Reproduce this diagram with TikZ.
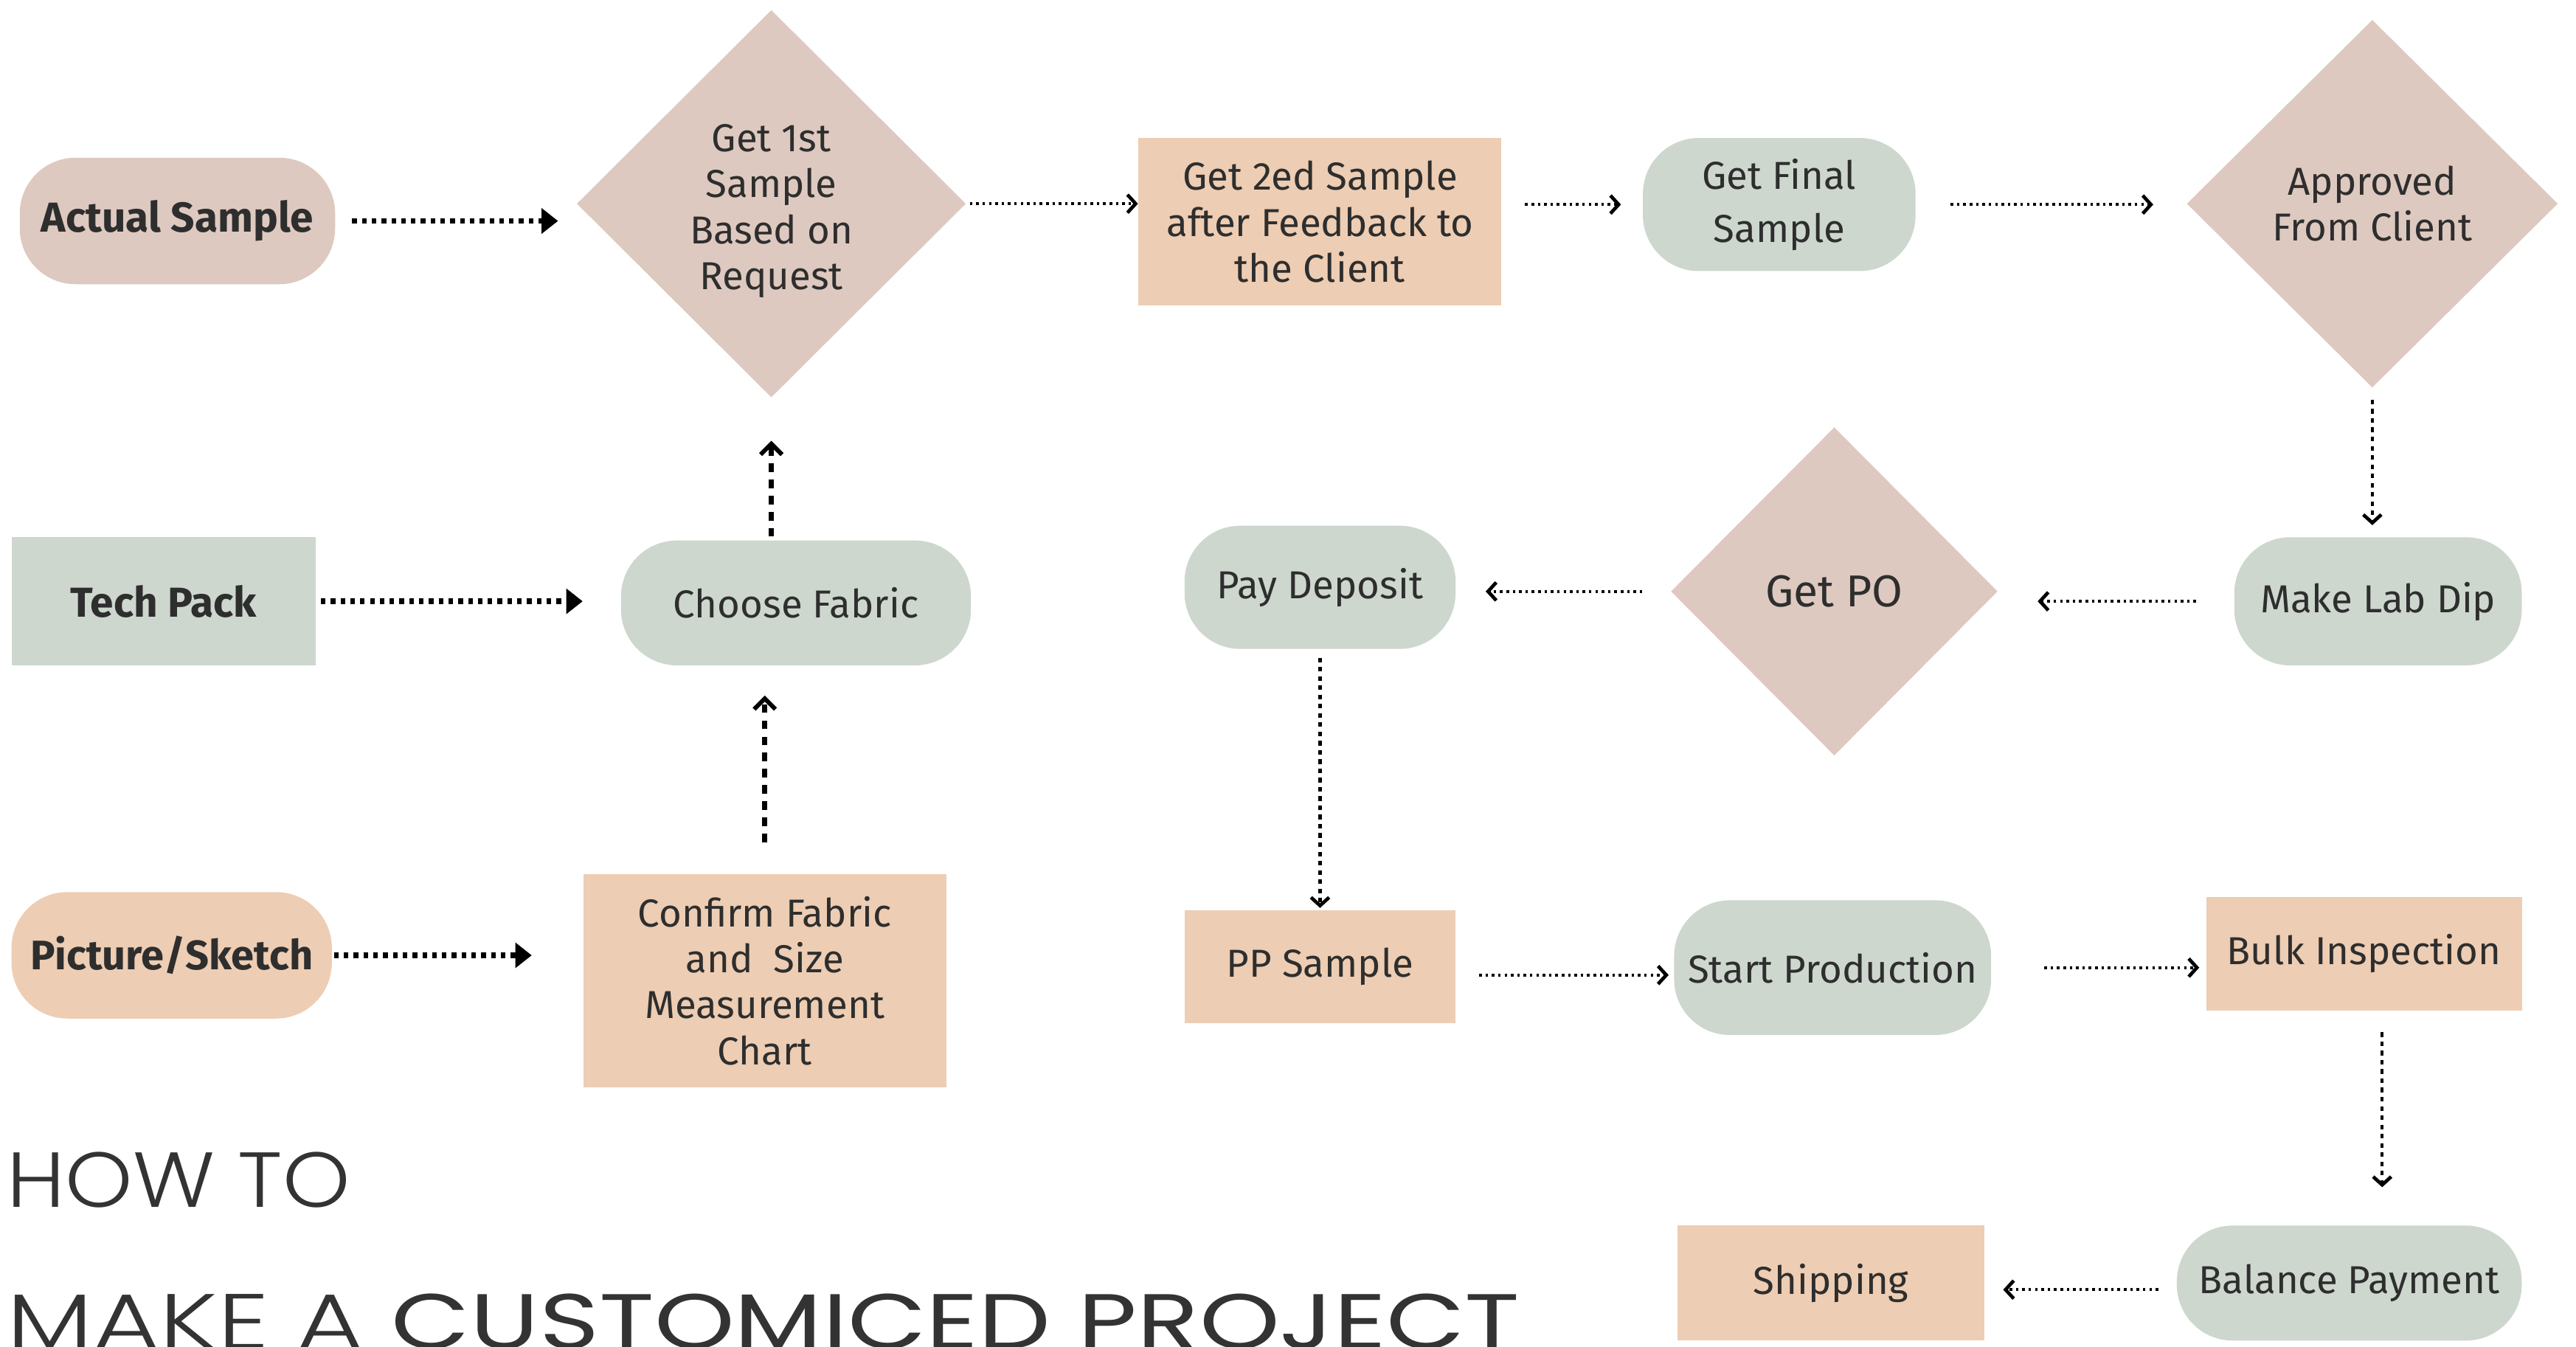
\documentclass[tikz,border=0pt]{standalone}
\usepackage{fontspec}
\setmainfont{Fira Sans}
\newfontfamily\titlelight{Poppins Light}
\newfontfamily\titlereg{Poppins}
\usetikzlibrary{shapes.geometric,arrows.meta}
\definecolor{pinkc}{HTML}{DEC9C0}
\definecolor{peachc}{HTML}{EDCDB3}
\definecolor{greenc}{HTML}{CDD7CE}
\definecolor{txtc}{HTML}{2E2E2E}
\definecolor{titlec}{HTML}{333333}
\tikzset{
  basenode/.style={inner sep=0pt, align=center, text=txtc, font=\fontsize{13.5}{15.9}\selectfont},
  boldtxt/.style={font=\fontsize{14.5}{17}\selectfont\bfseries},
  pill/.style={basenode, rectangle, rounded corners=0.68cm},
  boxnode/.style={basenode, rectangle},
  dia/.style={basenode, diamond, aspect=1},
  pinkf/.style={fill=pinkc},
  peachf/.style={fill=peachc},
  greenf/.style={fill=greenc},
  thkh/.style={line width=1.9pt, dash pattern=on 1.6pt off 1.8pt, -{Triangle[length=0.2cm,width=0.3cm]}},
  thkv/.style={line width=1.9pt, dash pattern=on 3pt off 2.6pt, -{Straight Barb[length=0.13cm,width=0.26cm,line width=1.5pt]}},
  thnh/.style={line width=1.1pt, dash pattern=on 0.9pt off 1.3pt, -{Straight Barb[length=0.1cm,width=0.22cm,line width=1.2pt]}},
  thnv/.style={line width=1.1pt, dash pattern=on 1.6pt off 1.6pt, -{Straight Barb[length=0.1cm,width=0.22cm,line width=1.2pt]}},
}
\begin{document}
\begin{tikzpicture}[x=0.02cm,y=-0.02cm]
\useasboundingbox[fill=white] (0,0) rectangle (1568,819.5);
% row 1
\node[pill,pinkf,minimum width=3.84cm,minimum height=1.54cm,boldtxt] (as) at (108,134.5) {Actual Sample};
\node[dia,pinkf,minimum width=4.74cm,minimum height=4.72cm] (g1) at (469.5,124) {\rule{0pt}{14.6pt}Get 1st\\Sample\\Based on\\Request};
\node[boxnode,peachf,minimum width=4.42cm,minimum height=2.04cm] (g2) at (803.5,135) {Get 2ed Sample\\after Feedback to\\the Client};
\node[pill,greenf,minimum width=3.32cm,minimum height=1.62cm,font=\fontsize{13.5}{18.5}\selectfont] (fin) at (1083,124.5) {Get Final\\Sample};
\node[dia,pinkf,minimum width=4.52cm,minimum height=4.48cm] (ap) at (1444,124) {Approved\\From Client};
% row 2
\node[boxnode,greenf,minimum width=3.7cm,minimum height=1.56cm,boldtxt] (tp) at (99.5,366) {Tech Pack};
\node[pill,greenf,minimum width=4.26cm,minimum height=1.52cm] (cf) at (484.5,367) {Choose Fabric};
\node[pill,greenf,minimum width=3.3cm,minimum height=1.5cm] (pd) at (803.5,357.5) {Pay Deposit};
\node[dia,pinkf,minimum width=3.98cm,minimum height=4.0cm,font=\fontsize{15.5}{18}\selectfont] (po) at (1116.5,360) {Get PO};
\node[pill,greenf,minimum width=3.5cm,minimum height=1.56cm] (mld) at (1447.5,366) {Make Lab Dip};
% row 3
\node[pill,peachf,minimum width=3.9cm,minimum height=1.54cm,font=\fontsize{14.3}{17}\selectfont\bfseries] (ps) at (104.5,581.5) {Picture/Sketch};
\node[boxnode,peachf,minimum width=4.42cm,minimum height=2.6cm] (conf) at (465.5,597) {Confirm Fabric\\and\ \ Size\\Measurement\\Chart};
\node[boxnode,peachf,minimum width=3.3cm,minimum height=1.38cm] (pp) at (803.5,588.5) {PP Sample};
\node[pill,greenf,minimum width=3.86cm,minimum height=1.64cm] (sp) at (1115.5,589) {Start Production};
\node[boxnode,peachf,minimum width=3.84cm,minimum height=1.38cm] (bi) at (1439,580.5) {Bulk Inspection};
% row 4
\node[boxnode,peachf,minimum width=3.74cm,minimum height=1.4cm] (sh) at (1114.5,781) {Shipping};
\node[pill,greenf,minimum width=4.2cm,minimum height=1.4cm] (bp) at (1430,781) {Balance Payment};
% title
\node[anchor=base west,inner sep=0pt,text=titlec,font=\fontsize{27}{27}\selectfont\titlelight] (t1) at (4,735) {\scalebox{1.1}[1]{HOW TO}};
\node[anchor=base west,inner sep=0pt,text=titlec,font=\fontsize{27}{27}\selectfont] (t2) at (4,821) {\scalebox{1.31}[1]{{\titlelight MAKE A }{\titlereg CUSTOMICED PROJECT}}};
% connectors
\draw[thkh,shorten <=0.2cm,shorten >=0.22cm] (as.east) -- (as.east -| g1.west);
\draw[thnh,shorten <=0.04cm] (g1.east) -- (g1.east -| g2.west);
\draw[thnh,shorten <=0.28cm,shorten >=0.26cm] (fin.west -| g2.east) -- (fin.west);
\draw[thnh,shorten <=0.42cm,shorten >=0.4cm] (fin.east) -- (fin.east -| ap.west);
\draw[thnv,shorten <=0.14cm,shorten >=0.14cm] (ap.south) -- (ap.south |- mld.north);
\draw[thnh,shorten <=0.46cm,shorten >=0.48cm] (mld.west) -- (mld.west -| po.east);
\draw[thnh,shorten <=0.34cm,shorten >=0.36cm] (po.west) -- (po.west -| pd.east);
\draw[thnv,shorten <=0.1cm,shorten >=0.02cm] (pd.south) -- (pp.north);
\draw[thnh,shorten <=0.28cm,shorten >=0.06cm] ([yshift=-0.1cm]pp.east) -- ([yshift=-0.1cm]pp.east -| sp.west);
\draw[thnh,shorten <=0.64cm,shorten >=0.08cm] (sp.east) -- (sp.east -| bi.west);
\draw[thnv,shorten <=0.26cm,shorten >=0.46cm] ([xshift=0.22cm]bi.south) -- ([xshift=0.22cm]bi.south |- bp.north);
\draw[thnh,shorten <=0.22cm,shorten >=0.22cm] ([yshift=-0.08cm]bp.west) -- ([yshift=-0.08cm]sh.east);
\draw[thkh,shorten <=0.06cm,shorten >=0.46cm] (tp.east) -- (tp.east -| cf.west);
\draw[thkv,shorten <=0.04cm,shorten >=0.52cm] (g1.south |- cf.north) -- (g1.south);
\draw[thkv,shorten <=0.38cm,shorten >=0.36cm] (conf.north) -- (conf.north |- cf.south);
\draw[thkh,shorten <=0.02cm,shorten >=0.62cm] (ps.east) -- (ps.east -| conf.west);
\end{tikzpicture}
\end{document}
